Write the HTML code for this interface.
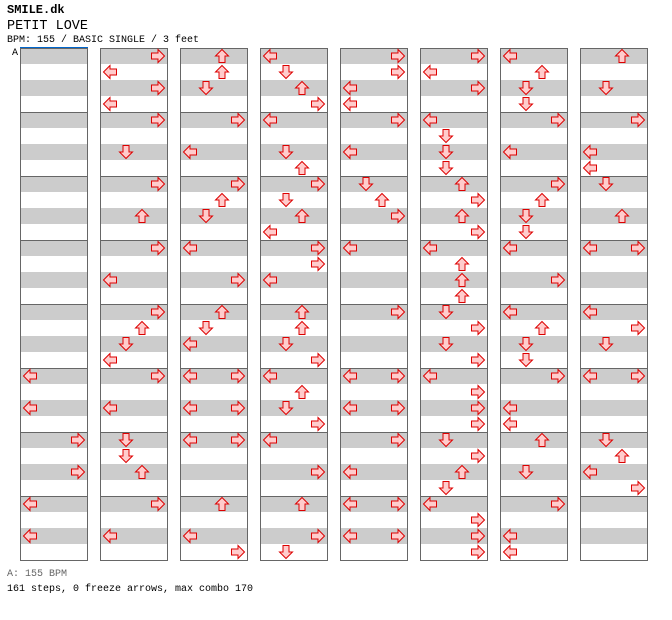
<!DOCTYPE html>
<html><head><meta charset="utf-8"><style>
body{margin:0;background:#fff;width:672px;height:620px;overflow:hidden;position:relative;font-family:"Liberation Mono",monospace;}
.t{position:absolute;left:7px;white-space:pre;color:#000;}
</style></head><body>
<div class="t" style="top:3px;font-size:12px;font-weight:bold">SMILE.dk</div>
<div class="t" style="top:19px;font-size:13.5px">PETIT LOVE</div>
<div class="t" style="top:35px;font-size:10px">BPM: 155 / BASIC SINGLE / 3 feet</div>
<div class="t" style="top:48px;left:12px;font-size:10px">A</div>
<div class="t" style="top:569px;font-size:10px;color:#666">A: 155 BPM</div>
<div class="t" style="top:584px;font-size:10px">161 steps, 0 freeze arrows, max combo 170</div>
<svg id="s" width="672" height="620" style="position:absolute;left:0;top:0" xmlns="http://www.w3.org/2000/svg">
<defs><g id="L"><polygon points="1.5,8 8,1.5 8,5 14.5,5 14.5,11 8,11 8,14.5" fill="#ffcccc" stroke="#dd0000" stroke-width="1"/></g></defs>
<g id="g"></g>
</svg>
<script>
var cols=[
"----|----|----|----|----|L-L-|R-R-|L-L-",
"RLRL|R-D-|R-U-|R-L-|RUDL|R-L-|DDU-|R-L-",
"UUD-|R-L-|RUD-|L-R-|UDL-|B-B-|B---|U-LR",
"LDUR|L-DU|RDUL|RRL-|UUDR|LUDR|L-R-|U-RD",
"RRLL|R-L-|DUR-|L---|R---|B-B-|R-L-|B-B-",
"RLR-|LDDD|URUR|LUUU|DRDR|LRRR|DRUD|LRRR",
"LUDD|R-L-|RUDD|L-R-|LUDD|R-LL|U-D-|R-LL",
"U-D-|R-LL|D-U-|B---|LRD-|B---|DULR|----"];
var h='';
for(var c=0;c<8;c++){
 var x=20+c*80;
 h+='<rect x="'+(x+0.5)+'" y="48.5" width="67" height="512" fill="#fff"/>';
 for(var r=0;r<32;r+=2){h+='<rect x="'+(x+1)+'" y="'+(48+r*16)+'" width="66" height="16" fill="#cccccc"/>';}
 for(var m=1;m<8;m++){h+='<line x1="'+x+'" x2="'+(x+68)+'" y1="'+(48.5+m*64)+'" y2="'+(48.5+m*64)+'" stroke="#666"/>';}
 h+='<rect x="'+(x+0.5)+'" y="48.5" width="67" height="512" fill="none" stroke="#666"/>';
 var s=cols[c].replace(/\|/g,'');
 for(var i=0;i<32;i++){
  var ch=s[i];var ks=ch=='B'?['L','R']:(ch=='-'?[]:[ch]);
  ks.forEach(function(k){
   var lane={L:0,D:1,U:2,R:3}[k],rot={L:0,D:270,U:90,R:180}[k];
   var ax=x+2+lane*16,ay=48+i*16;
   h+='<use href="#L" transform="translate('+ax+','+ay+') rotate('+rot+',8,8)"/>';
  });
 }
}
h+='<line x1="20" x2="88" y1="47.5" y2="47.5" stroke="#0066cc"/>';
document.getElementById('g').innerHTML=h;
</script>
</body></html>
